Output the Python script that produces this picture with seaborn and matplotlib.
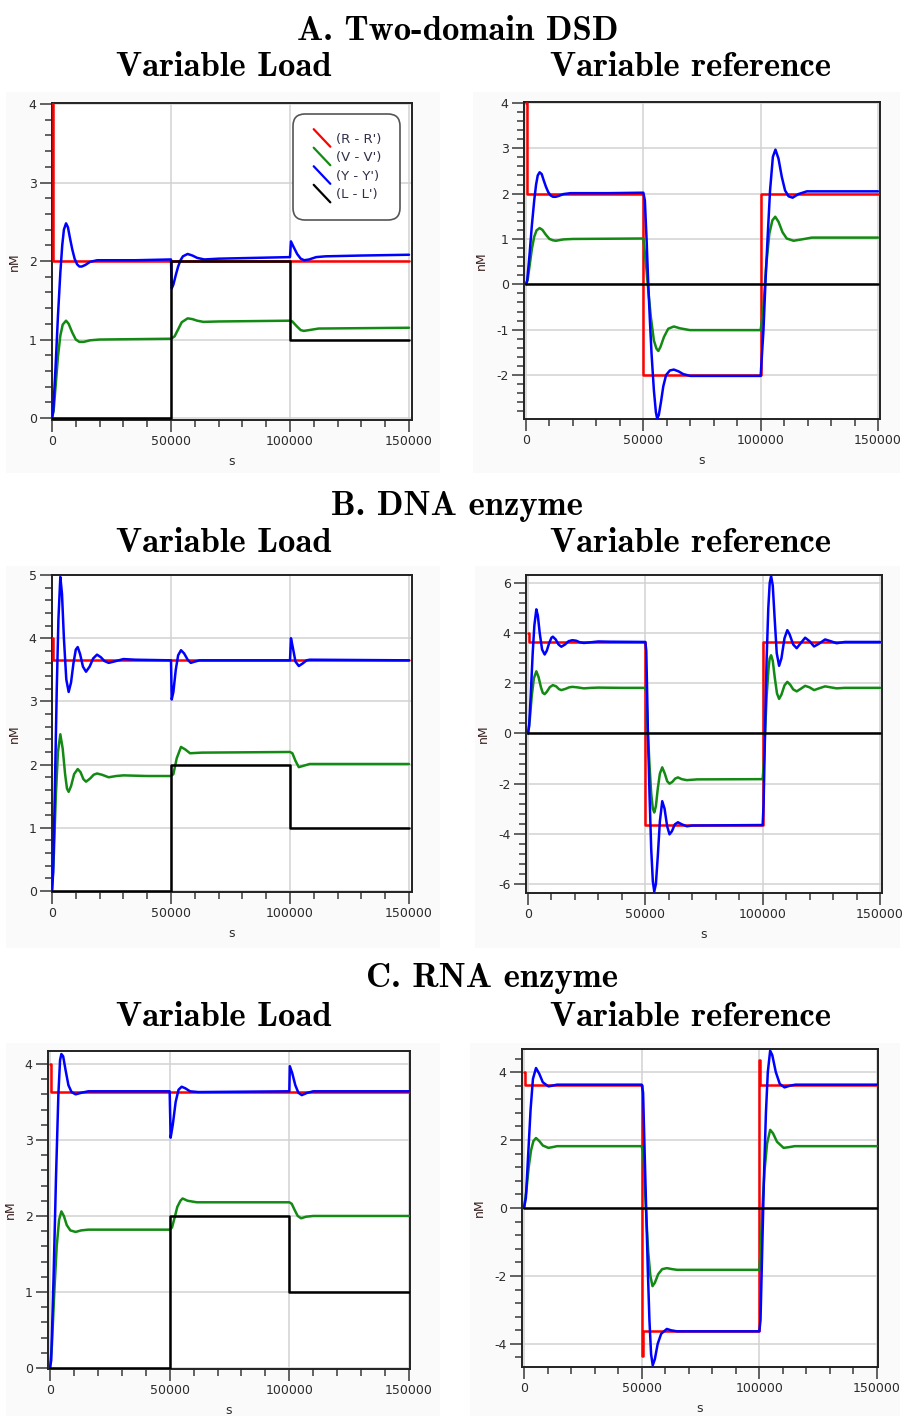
import matplotlib
matplotlib.use('Agg')
import matplotlib.pyplot as plt
import seaborn as sns
from matplotlib.lines import Line2D
from matplotlib.patches import Rectangle
from matplotlib.legend_handler import HandlerBase
from matplotlib.ticker import MultipleLocator

# ---------------- values (t in s, conc. in nM) ----------------
section_titles = ["A. Two-domain DSD", "B. DNA enzyme", "C. RNA enzyme"]
column_titles = ["Variable Load", "Variable reference"]
series_labels = ["(R - R')", "(V - V')", "(Y - Y')", "(L - L')"]

# piecewise constant signals (step values, held until next time)
load_t = [0, 50000, 100000, 150000]
load_L = [0, 2, 1, 1]
zero_t = [0, 150000]
zero_L = [0, 0]

a_load_R_t = [0, 400, 150000]
a_load_R = [4, 2, 2]
a_ref_R_t = [0, 400, 50000, 100000, 150000]
a_ref_R = [4, 2, -2, 2, 2]
b_load_R_t = [0, 500, 150000]
b_load_R = [4, 3.65, 3.65]
b_ref_R_t = [0, 500, 50000, 100000, 150000]
b_ref_R = [4, 3.65, -3.65, 3.65, 3.65]
c_load_R_t = [0, 500, 150000]
c_load_R = [4, 3.63, 3.63]
c_ref_R_t = [0, 300, 50000, 50400, 100000, 100400, 150000]
c_ref_R = [4, 3.63, -4.36, -3.63, 4.37, 3.63, 3.63]

# A. Two-domain DSD, variable load
a_load_V_t = [0, 700, 1500, 2500, 3500, 4500, 5900, 7000, 8500, 10000, 11500, 13300, 16000, 20000,
              35000, 50000, 51500, 53000, 54500, 57000, 59000, 61000, 63600, 70000, 100000, 101000,
              102800, 104500, 105800, 108000, 112000, 150000]
a_load_V = [0, 0.1, 0.4, 0.78, 1.05, 1.19, 1.24, 1.2, 1.09, 1.0, 0.97, 0.97, 0.99, 1.0,
            1.005, 1.01, 1.04, 1.13, 1.22, 1.27, 1.26, 1.24, 1.225, 1.23, 1.24, 1.23,
            1.17, 1.12, 1.11, 1.12, 1.14, 1.15]
a_load_Y_t = [0, 500, 1500, 2500, 3500, 4300, 5000, 5900, 6700, 7500, 8500, 9500, 10500, 11500, 12500,
              14000, 16000, 19000, 25000, 35000, 50000, 50300, 51000, 52000, 53000, 54000, 55000, 57000,
              59000, 61000, 64000, 70000, 85000, 100000, 100400, 101500, 103000, 104500, 106000, 108000,
              111000, 115000, 130000, 150000]
a_load_Y = [0, 0.08, 0.65, 1.3, 1.85, 2.2, 2.4, 2.48, 2.43, 2.3, 2.15, 2.03, 1.96, 1.93, 1.93,
            1.95, 1.99, 2.01, 2.01, 2.01, 2.02, 1.65, 1.7, 1.82, 1.93, 2.01, 2.06, 2.09,
            2.07, 2.04, 2.02, 2.03, 2.04, 2.05, 2.25, 2.18, 2.09, 2.03, 2.01, 2.02,
            2.05, 2.06, 2.07, 2.08]

# A. Two-domain DSD, variable reference
a_ref_V_t = [0, 700, 1500, 2500, 3500, 4500, 5800, 7000, 8500, 10000, 11500, 12700, 16000, 20000,
             35000, 50000, 51100, 52100, 53200, 54500, 55600, 56400, 57300, 58800, 60600, 63000,
             65600, 69900, 100000, 101200, 102300, 103700, 105000, 106200, 107600, 109300, 111100,
             114000, 117500, 121800, 150000]
a_ref_V = [0, 0.1, 0.4, 0.78, 1.05, 1.19, 1.24, 1.2, 1.09, 1.0, 0.97, 0.96, 0.99, 1.0,
           1.005, 1.01, 0.46, -0.13, -0.72, -1.24, -1.42, -1.47, -1.38, -1.16, -0.98, -0.93,
           -0.97, -1.01, -1.01, -0.5, 0.38, 1.12, 1.41, 1.49, 1.38, 1.15, 1.01,
           0.96, 0.99, 1.03, 1.03]
a_ref_Y_t = [0, 500, 1500, 2500, 3500, 4300, 5000, 5800, 6700, 7500, 8500, 9500, 10500, 11500, 12700,
             14000, 16000, 19000, 25000, 35000, 50000, 50650, 51400, 52100, 52800, 53500, 54500, 55350,
             55900, 56600, 57500, 58500, 59700, 61300, 63000, 65000, 67000, 70000, 85000, 100000,
             101200, 102000, 102900, 104000, 105200, 106300, 107600, 109000, 110400, 111900, 113600,
             116100, 119700, 135000, 150000]
a_ref_Y = [0, 0.08, 0.65, 1.3, 1.85, 2.2, 2.4, 2.47, 2.43, 2.3, 2.15, 2.03, 1.96, 1.93, 1.93,
           1.95, 1.99, 2.01, 2.01, 2.01, 2.02, 1.85, 0.97, 0.0, -0.8, -1.53, -2.34, -2.82,
           -2.96, -2.88, -2.6, -2.25, -2.0, -1.9, -1.88, -1.92, -1.98, -2.02, -2.02, -2.02,
           -1.0, 0.0, 0.97, 2.07, 2.81, 2.97, 2.77, 2.37, 2.07, 1.94, 1.91,
           1.99, 2.05, 2.05, 2.05]

# B. DNA enzyme, variable load
b_load_V_t = [0, 800, 1600, 2500, 3500, 4500, 5500, 6300, 7000, 8000, 9300, 10800, 12000, 13200, 14300,
              16000, 17500, 18900, 21000, 23800, 27000, 30000, 40000, 50000, 51000, 52400, 54200,
              56000, 58000, 63000, 100000, 101000, 102300, 103700, 105500, 108300, 150000]
b_load_V = [0, 0.6, 1.5, 2.2, 2.48, 2.25, 1.85, 1.62, 1.57, 1.66, 1.85, 1.93, 1.88, 1.77, 1.73,
            1.78, 1.84, 1.86, 1.84, 1.8, 1.82, 1.83, 1.82, 1.82, 1.85, 2.1, 2.28,
            2.24, 2.18, 2.19, 2.2, 2.18, 2.06, 1.96, 1.98, 2.01, 2.01]
b_load_Y_t = [0, 500, 1200, 2000, 2700, 3500, 4200, 5000, 6000, 7000, 8000, 9000, 10000, 10800, 11800,
              13000, 14300, 15800, 17300, 18900, 20500, 22000, 23800, 26000, 30000, 35000, 50000,
              50300, 51000, 52000, 53000, 54200, 55500, 57000, 58300, 60000, 62000, 100000, 100400,
              101200, 102300, 103700, 105300, 107000, 108300, 150000]
b_load_Y = [0, 0.3, 1.6, 3.2, 4.3, 4.97, 4.7, 4.0, 3.35, 3.15, 3.3, 3.6, 3.82, 3.86, 3.75,
            3.55, 3.47, 3.55, 3.68, 3.74, 3.7, 3.64, 3.61, 3.63, 3.67, 3.66, 3.65,
            3.03, 3.15, 3.5, 3.73, 3.81, 3.76, 3.66, 3.61, 3.63, 3.65, 3.65, 4.0,
            3.85, 3.63, 3.56, 3.6, 3.65, 3.66, 3.65]

# B. DNA enzyme, variable reference
b_ref_V_t = [0, 800, 1600, 2500, 3550, 4500, 5500, 6300, 7100, 8000, 9300, 10600, 12000, 13200, 14200,
             16000, 17500, 18900, 21000, 23800, 27000, 30000, 40000, 50000, 50400, 51100, 51800,
             52500, 53200, 53800, 54500, 55300, 56200, 57200, 58300, 59300, 60300, 61500, 62700,
             63900, 65500, 67700, 72000, 100000, 100500, 101000, 101700, 102500, 103000, 103600,
             104300, 105200, 106100, 107000, 108000, 109300, 110500, 111700, 113000, 114500, 116200,
             118100, 120000, 121900, 124000, 126600, 129000, 131500, 135000, 150000]
b_ref_V = [0, 0.6, 1.5, 2.2, 2.48, 2.25, 1.85, 1.62, 1.57, 1.66, 1.85, 1.93, 1.88, 1.77, 1.73,
           1.78, 1.84, 1.86, 1.84, 1.8, 1.82, 1.83, 1.82, 1.82, 1.6, 0.0, -1.3,
           -2.4, -3.0, -3.15, -2.9, -2.2, -1.6, -1.35, -1.6, -1.9, -2.0, -1.93, -1.8,
           -1.75, -1.82, -1.86, -1.83, -1.82, -1.2, 0.0, 1.5, 2.6, 3.0, 3.12,
           2.9, 2.2, 1.6, 1.38, 1.55, 1.92, 2.06, 1.95, 1.76, 1.68, 1.78,
           1.9, 1.84, 1.73, 1.8, 1.88, 1.84, 1.8, 1.82, 1.82]
b_ref_Y_t = [0, 500, 1200, 2000, 2700, 3550, 4200, 5000, 6000, 7100, 8000, 9000, 10000, 10600, 11800,
             13000, 14200, 15800, 17300, 18900, 20500, 22000, 23800, 26000, 30000, 35000, 50000,
             50400, 50800, 51100, 51800, 52500, 53200, 53800, 54500, 55300, 56200, 57200, 58200,
             59300, 60300, 61300, 62600, 63900, 65500, 67700, 70000, 100000, 100400, 101000, 101700,
             102400, 103000, 103600, 104300, 105100, 106000, 107000, 108000, 109300, 110500, 111500,
             113000, 114500, 116200, 118100, 120000, 121900, 124000, 126600, 129000, 131500, 135000,
             150000]
b_ref_Y = [0, 0.3, 1.6, 3.2, 4.3, 4.95, 4.7, 4.0, 3.35, 3.15, 3.3, 3.6, 3.82, 3.86, 3.75,
           3.55, 3.46, 3.55, 3.68, 3.72, 3.7, 3.64, 3.61, 3.63, 3.67, 3.66, 3.65,
           3.3, 1.5, 0.0, -2.5, -4.6, -5.9, -6.3, -6.0, -4.9, -3.5, -2.7, -3.0,
           -3.7, -4.02, -3.9, -3.62, -3.54, -3.62, -3.7, -3.67, -3.65, -2.8, 0.0, 3.0,
           5.0, 6.0, 6.28, 5.9, 4.6, 3.2, 2.7, 3.0, 3.8, 4.12, 3.95,
           3.55, 3.4, 3.6, 3.82, 3.68, 3.47, 3.58, 3.75, 3.68, 3.6, 3.65,
           3.65]

# C. RNA enzyme, variable load
c_load_V_t = [0, 800, 1800, 2800, 3800, 4750, 5800, 7000, 8500, 10700, 13000, 16000, 50000, 51000,
              52000, 53200, 54500, 55400, 57500, 61300, 100000, 101000, 102200, 103500, 104900,
              107000, 110000, 150000]
c_load_V = [0, 0.3, 1.0, 1.6, 1.95, 2.06, 2.0, 1.88, 1.81, 1.79, 1.81, 1.82, 1.82, 1.85,
            1.97, 2.12, 2.2, 2.23, 2.2, 2.18, 2.18, 2.16, 2.08, 2.0, 1.97,
            1.99, 2.0, 2.0]
c_load_Y_t = [0, 500, 1500, 2500, 3500, 4200, 4750, 5500, 6500, 7700, 9000, 10700, 13000, 16000,
              50000, 50400, 51300, 52500, 53700, 55000, 56500, 58500, 62000, 100000, 100200,
              101200, 102500, 103800, 105200, 107500, 110000, 150000]
c_load_Y = [0, 0.1, 1.2, 2.5, 3.6, 4.05, 4.13, 4.1, 3.92, 3.72, 3.63, 3.6, 3.62, 3.64,
            3.64, 3.03, 3.2, 3.5, 3.66, 3.7, 3.68, 3.64, 3.63, 3.64, 3.97,
            3.88, 3.72, 3.62, 3.59, 3.62, 3.64, 3.64]

# C. RNA enzyme, variable reference
c_ref_V_t = [0, 1000, 2000, 3000, 4000, 5100, 6500, 8000, 10350, 12000, 14000, 50000, 50700, 51300,
             52000, 52800, 53700, 54600, 55600, 57000, 58700, 60700, 63000, 65000, 100000, 100600,
             101300, 102200, 103300, 104600, 105800, 107500, 110300, 112500, 115000, 150000]
c_ref_V = [0, 0.5, 1.2, 1.7, 1.97, 2.06, 1.97, 1.84, 1.77, 1.79, 1.82, 1.82, 1.6, 0.7,
           -0.3, -1.3, -2.0, -2.3, -2.2, -1.95, -1.8, -1.77, -1.8, -1.82, -1.82, -1.2,
           0.0, 1.1, 1.9, 2.3, 2.2, 1.95, 1.77, 1.79, 1.82, 1.82]
c_ref_Y_t = [0, 800, 1800, 2800, 3800, 5100, 6500, 8000, 10350, 12000, 14000, 50000, 50600, 51200,
             51900, 52600, 53300, 54000, 54700, 55600, 56800, 58300, 60700, 62500, 65000, 100000,
             100500, 101300, 102000, 102800, 103600, 104600, 105500, 107000, 108700, 110700, 113000,
             115300, 150000]
c_ref_Y = [0, 0.3, 1.6, 2.9, 3.8, 4.12, 3.95, 3.7, 3.58, 3.6, 3.63, 3.63, 3.4, 1.8,
           0.0, -1.8, -3.3, -4.3, -4.63, -4.45, -4.0, -3.7, -3.56, -3.6, -3.63, -3.63,
           -3.3, -1.0, 1.0, 2.8, 4.0, 4.63, 4.5, 4.0, 3.65, 3.55, 3.6,
           3.63, 3.63]

# ---------------- styling ----------------
sns.set_theme(style="white")
plt.rcParams['font.family'] = ['DejaVu Sans']
plt.rcParams['axes.unicode_minus'] = False

colors = ['#ff0000', '#138a13', '#0000ff', '#000000']
TICK_C = '#2b2b2b'
W, H = 904, 1416

fig = plt.figure(figsize=(W / 100, H / 100), dpi=100)
fig.patch.set_facecolor('white')


def fig_rect(l, t, r, b):
    return [l / W, 1 - b / H, (r - l) / W, (b - t) / H]


# faint grey screenshot backgrounds
for (l, t, r, b) in [(6, 92, 440, 473), (473, 92, 900, 473), (6, 566, 440, 948),
                     (475, 566, 900, 948), (6, 1043, 440, 1416), (470, 1043, 900, 1416)]:
    fig.patches.append(Rectangle((l / W, 1 - b / H), (r - l) / W, (b - t) / H,
                                 transform=fig.transFigure, facecolor='#fafafa',
                                 edgecolor='none', zorder=-5))

panels = [
    dict(rect=(52, 103, 412, 420), xlim=(0, 151260), ylim=(-0.025, 4.013), major=1, minor=0.2,
         R=(a_load_R_t, a_load_R), V=(a_load_V_t, a_load_V), Y=(a_load_Y_t, a_load_Y), L=(load_t, load_L)),
    dict(rect=(524, 102, 880, 419), xlim=(-852, 150852), ylim=(-2.97, 4.02), major=1, minor=0.2,
         R=(a_ref_R_t, a_ref_R), V=(a_ref_V_t, a_ref_V), Y=(a_ref_Y_t, a_ref_Y), L=(zero_t, zero_L)),
    dict(rect=(52, 575, 412, 892), xlim=(0, 151260), ylim=(-0.015, 5.0), major=1, minor=0.2,
         R=(b_load_R_t, b_load_R), V=(b_load_V_t, b_load_V), Y=(b_load_Y_t, b_load_Y), L=(load_t, load_L)),
    dict(rect=(526, 575, 882, 893), xlim=(-852, 150852), ylim=(-6.36, 6.32), major=2, minor=0.4,
         R=(b_ref_R_t, b_ref_R), V=(b_ref_V_t, b_ref_V), Y=(b_ref_Y_t, b_ref_Y), L=(zero_t, zero_L)),
    dict(rect=(48, 1051, 410, 1369), xlim=(-836, 150418), ylim=(-0.013, 4.17), major=1, minor=0.2,
         R=(c_load_R_t, c_load_R), V=(c_load_V_t, c_load_V), Y=(c_load_Y_t, c_load_Y), L=(load_t, load_L)),
    dict(rect=(522, 1049, 878, 1367), xlim=(-850, 150425), ylim=(-4.68, 4.68), major=2, minor=0.4,
         R=(c_ref_R_t, c_ref_R), V=(c_ref_V_t, c_ref_V), Y=(c_ref_Y_t, c_ref_Y), L=(zero_t, zero_L)),
]

axes = []
for p in panels:
    ax = fig.add_axes(fig_rect(*p['rect']))
    ax.set_facecolor('white')
    for key, col in zip(['R', 'V', 'Y', 'L'], colors):
        t, v = p[key]
        ds = 'steps-post' if key in ('R', 'L') else 'default'
        sns.lineplot(x=t, y=v, ax=ax, color=col, lw=1.8, drawstyle=ds,
                     estimator=None, sort=False, legend=False, zorder=3)
    ax.set_xlim(*p['xlim'])
    ax.set_ylim(*p['ylim'])
    ax.xaxis.set_major_locator(MultipleLocator(50000))
    ax.xaxis.set_minor_locator(MultipleLocator(10000))
    ax.yaxis.set_major_locator(MultipleLocator(p['major']))
    ax.yaxis.set_minor_locator(MultipleLocator(p['minor']))
    ax.yaxis.set_major_formatter(plt.FuncFormatter(lambda v, pos: '%d' % round(v)))
    ax.xaxis.set_major_formatter(plt.FuncFormatter(lambda v, pos: '%d' % round(v)))
    ax.grid(True, which='major', color='#d2d2d2', lw=1.1)
    ax.set_axisbelow(True)
    ax.tick_params(which='both', direction='out', color='#555555', width=1.3,
                   labelsize=9, labelcolor=TICK_C, left=True, bottom=True)
    ax.tick_params(which='major', length=8.5, pad=2.5)
    ax.tick_params(which='minor', length=5)
    for s in ax.spines.values():
        s.set_color('#222222')
        s.set_linewidth(1.4)
    ax.set_xlabel('s', fontsize=9, color=TICK_C, labelpad=5)
    ax.set_ylabel('nM', fontsize=9, color='#3a2020', labelpad=6)
    axes.append(ax)


# legend with diagonal line keys (only in first panel)
class DiagHandler(HandlerBase):
    def create_artists(self, legend, orig_handle, xdescent, ydescent, width, height, fontsize, trans):
        x0, y0 = -xdescent, -ydescent
        ln = Line2D([x0 + width * 0.1, x0 + width], [y0 + height * 1.45, y0 - height * 0.45],
                    color=orig_handle.get_color(), lw=1.6, transform=trans)
        return [ln]


handles = [Line2D([], [], color=c) for c in colors]
leg = axes[0].legend(handles, series_labels, handler_map={Line2D: DiagHandler()},
                     loc='upper right', bbox_to_anchor=(0.967, 0.965), borderaxespad=0,
                     fontsize=9.5, frameon=True, handlelength=1.4, handletextpad=0.45,
                     labelspacing=0.42, borderpad=1.4, fancybox=True)
for txt in leg.get_texts():
    txt.set_color('#30304a')
fr = leg.get_frame()
fr.set_edgecolor('#555555')
fr.set_linewidth(1.2)
fr.set_facecolor('white')
fr.set_alpha(1)
fr.set_boxstyle('round,pad=0,rounding_size=0.9')

# titles
title_font = dict(family=['cmb10', 'DejaVu Serif'], fontsize=25, color='black',
                  ha='center', va='center')
rows = [(31, 68, 458), (506, 543, 457), (979, 1017, 492)]
for title, (ty, sy, tx) in zip(section_titles, rows):
    fig.text(tx / W, 1 - ty / H, title, **title_font)
    fig.text(224 / W, 1 - sy / H, column_titles[0], **title_font)
    fig.text(691 / W, 1 - sy / H, column_titles[1], **title_font)

fig.savefig('out.png', dpi=100, facecolor='white')
